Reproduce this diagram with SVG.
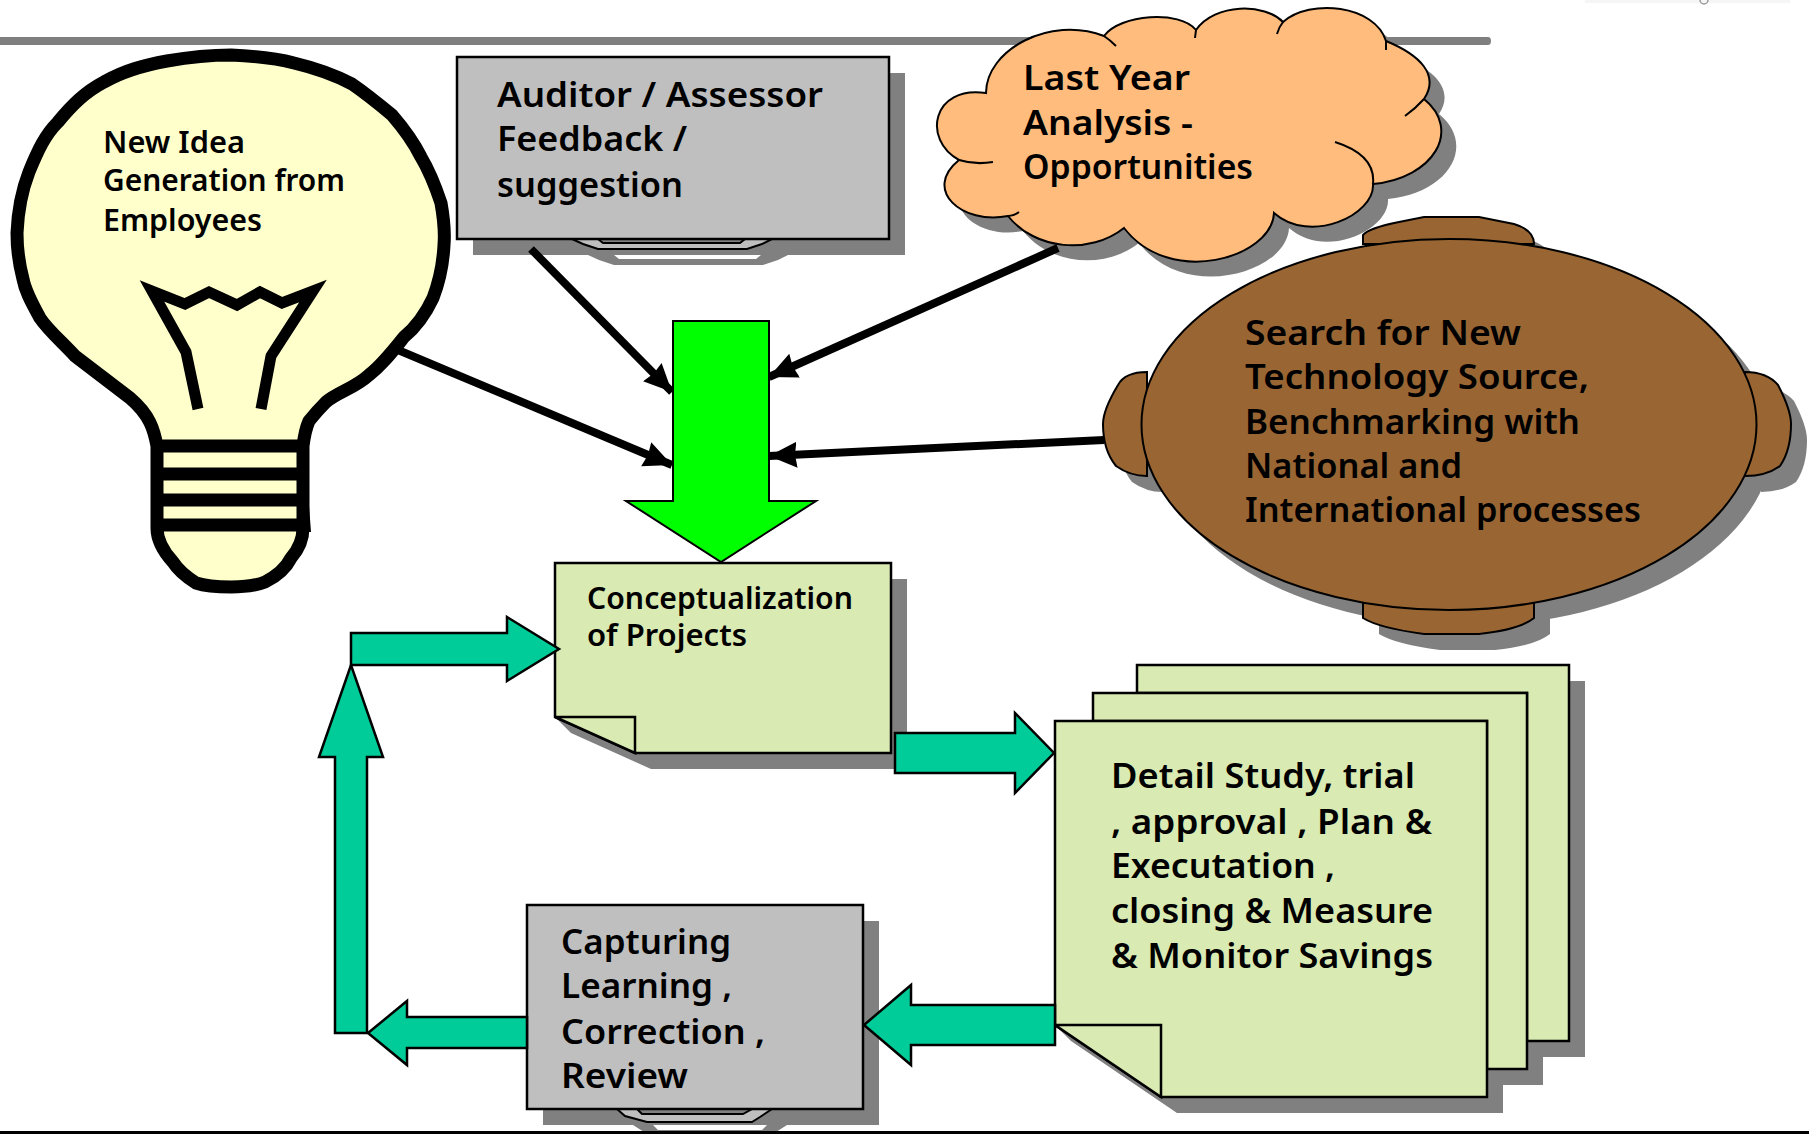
<svg xmlns="http://www.w3.org/2000/svg" width="1809" height="1134" viewBox="0 0 1809 1134">
<style>
text{font-family:"Noto Sans","Liberation Sans",sans-serif;font-weight:600;fill:#000}
.l{font-size:35px}.s{font-size:30px}
.sh{fill:#808080;stroke:none}
.o{stroke:#000;stroke-width:2.5}
.gr{fill:#BFBFBF}.nt{fill:#D9EAB2}.tl{fill:#00CC99}
.br{fill:#996633}.cl{fill:#FFBC7D}
.tail{fill:none;stroke:#000;stroke-width:2}
.bk{fill:none;stroke:#000;stroke-width:11}
.cn{fill:none;stroke:#000;stroke-width:8;marker-end:url(#ah)}
</style>
<defs>
<marker id="ah" markerUnits="userSpaceOnUse" viewBox="0 0 30 30" refX="28" refY="15" markerWidth="30" markerHeight="30" orient="auto"><path d="M0,2 L28,15 L0,28 L2,15 Z" fill="#000"/></marker>
<path id="cp" d="M986,93 C986,50 1050,15 1104,36 C1120,14 1180,10 1196,30 C1215,3 1265,3 1283,22 C1310,-2 1375,5 1386,41 C1420,55 1440,75 1424,99 C1462,130 1434,178 1373,184 C1375,215 1310,245 1274,213 C1272,258 1170,288 1124,228 C1090,255 1035,250 1008,216 C962,225 922,190 959,160 C922,140 932,85 986,93 Z"/>
</defs>
<rect width="1809" height="1134" fill="#fff"/>
<rect x="1585" y="0" width="205" height="3" fill="#F6F6F6"/>
<circle cx="1704" cy="0" r="4" fill="none" stroke="#9A9A9A" stroke-width="1.5"/>
<path d="M0,37 H1488 Q1491,37 1491,41 Q1491,45 1488,45 H0 Z" fill="#7F7F7F"/>

<g id="bulb">
<path d="M157,446 C154,430 150,415 130,398 L75,356 C60,340 48,330 40,318 C30,300 25,290 23,279 C18,260 17,245 17,233 C18,210 22,190 29,172 C38,150 45,135 58,122 C72,105 85,92 104,82 C125,70 145,65 167,61 C190,57 210,55 231,55 C255,56 275,58 294,63 C315,68 335,75 352,84 C368,95 380,105 392,115 C405,130 414,143 421,157 C430,172 436,188 441,203 C444,220 445,233 444,245 C443,265 438,285 433,298 C425,315 415,328 404,337 C392,352 382,365 369,375 C355,388 338,392 326,402 C318,410 313,416 309,421 C305,430 304,438 303,446 L303,528 C303,540 298,550 291,558 C285,570 275,577 265,582 C255,586 243,587 231,587 C218,587 205,586 196,583 C185,576 178,570 173,562 C162,550 157,540 157,528 Z" fill="#FFFFCC" stroke="#000" stroke-width="13" stroke-linejoin="round"/>
<path d="M157,446 H303 M157,474 H303 M157,500 H303 M157,525 H303" fill="none" stroke="#000" stroke-width="13"/>
<path d="M307,532 L304,440 L311,532 Z" fill="#000"/>
<path d="M198,409 L186,352 L152,291 L185,304 L209,292 L237,305 L260,292 L282,303 L313,291 L271,356 L261,409" class="bk" stroke-miterlimit="10"/>
<text class="s" x="103" y="153" textLength="142" lengthAdjust="spacingAndGlyphs">New Idea</text>
<text class="s" x="103" y="191" textLength="242" lengthAdjust="spacingAndGlyphs">Generation from</text>
<text class="s" x="103" y="231" textLength="159" lengthAdjust="spacingAndGlyphs">Employees</text>
</g>

<g id="auditor">
<path class="sh" fill-rule="evenodd" d="M588,255 L599,260 L614,265 H763 L778,260 L788,255 Z M614,255 L619,259 H756 L761,255 Z"/>
<rect class="sh" x="473" y="73" width="432" height="182"/>
<path class="gr" fill-rule="evenodd" stroke="#000" stroke-width="2" d="M572,239 L583,244 L598,249 H747 L762,244 L772,239 Z M598,239 L603,243 H740 L745,239 Z"/>
<rect class="gr o" x="457" y="57" width="432" height="182"/>
<text class="l" x="497" y="107" textLength="326" lengthAdjust="spacingAndGlyphs">Auditor / Assessor</text>
<text class="l" x="497" y="151" textLength="190" lengthAdjust="spacingAndGlyphs">Feedback /</text>
<text class="l" x="497" y="197" textLength="186" lengthAdjust="spacingAndGlyphs">suggestion</text>
</g>

<g id="cloud">
<use href="#cp" class="sh" transform="translate(15,15)"/>
<use href="#cp" class="cl" stroke="#000" stroke-width="2"/>
<path class="tail" d="M1104,36 Q1110,40 1116,46 M1196,30 L1195,38 M1283,22 Q1279,27 1277,34 M1386,41 L1386,50 M1424,99 Q1416,108 1405,116 M1373,184 Q1376,155 1335,142 M1008,216 Q1014,216 1019,212 M959,160 Q975,165 993,162"/>
<text class="l" x="1023" y="90" textLength="167" lengthAdjust="spacingAndGlyphs">Last Year</text>
<text class="l" x="1023" y="135" textLength="170" lengthAdjust="spacingAndGlyphs">Analysis -</text>
<text class="l" x="1023" y="179" textLength="230" lengthAdjust="spacingAndGlyphs">Opportunities</text>
</g>

<g id="search">
<g transform="translate(16,16)">
<ellipse class="sh" cx="1449" cy="424.5" rx="307.5" ry="185.5"/>
<path class="sh" d="M1363,244 V235 Q1369,228 1399,222 L1424,217 H1479 L1514,224 Q1534,230 1534,244 Z"/>
<path class="sh" d="M1363,602 V618 Q1379,628 1424,634 H1479 Q1519,630 1534,618 V602 Z"/>
<path class="sh" d="M1147,372 Q1125,372 1118,385 Q1103,410 1103,424 Q1103,450 1116,466 Q1130,476 1147,476 Z"/>
<path class="sh" d="M1745,372 Q1767,372 1778,385 Q1791,410 1791,424 Q1791,450 1780,466 Q1766,476 1745,476 Z"/>
</g>
<path class="br" stroke="#000" stroke-width="2" d="M1363,244 V235 Q1369,228 1399,222 L1424,217 H1479 L1514,224 Q1534,230 1534,244 Z"/>
<path class="br" stroke="#000" stroke-width="2" d="M1363,602 V618 Q1379,628 1424,634 H1479 Q1519,630 1534,618 V602 Z"/>
<path class="br" stroke="#000" stroke-width="2" d="M1147,372 Q1125,372 1118,385 Q1103,410 1103,424 Q1103,450 1116,466 Q1130,476 1147,476 Z"/>
<path class="br" stroke="#000" stroke-width="2" d="M1745,372 Q1767,372 1778,385 Q1791,410 1791,424 Q1791,450 1780,466 Q1766,476 1745,476 Z"/>
<ellipse class="br" stroke="#000" stroke-width="2" cx="1449" cy="424.5" rx="307.5" ry="185.5"/>
<text class="l" x="1245" y="345" textLength="276" lengthAdjust="spacingAndGlyphs">Search for New</text>
<text class="l" x="1245" y="389" textLength="344" lengthAdjust="spacingAndGlyphs">Technology Source,</text>
<text class="l" x="1245" y="434" textLength="335" lengthAdjust="spacingAndGlyphs">Benchmarking with</text>
<text class="l" x="1245" y="478" textLength="217" lengthAdjust="spacingAndGlyphs">National and</text>
<text class="l" x="1245" y="522" textLength="396" lengthAdjust="spacingAndGlyphs">International processes</text>
</g>

<g id="concept">
<path class="sh" d="M571,733 L651,769 H907 V579 H891 V753 H635 L555,717 Z"/>
<path class="nt o" d="M555,563 H891 V753 H635 L555,717 Z"/>
<path class="nt o" d="M555,717 H635 V753 Z"/>
<text class="s" x="587" y="609" textLength="266" lengthAdjust="spacingAndGlyphs">Conceptualization</text>
<text class="s" x="587" y="646" textLength="160" lengthAdjust="spacingAndGlyphs">of Projects</text>
</g>

<g id="detail">
<path class="sh" d="M1585,681 H1569 V1041 H1527 V1057 H1585 Z"/>
<path class="sh" d="M1543,709 H1527 V1069 H1487 V1085 H1543 Z"/>
<path class="sh" d="M1071,1041 L1177,1113 H1503 V737 H1487 V1097 H1161 L1055,1025 Z"/>
<path class="nt o" d="M1137,693 V665 H1569 V1041 H1527 V693 Z"/>
<path class="nt o" d="M1093,721 V693 H1527 V1069 H1487 V721 Z"/>
<path class="nt o" d="M1055,721 H1487 V1097 H1161 L1055,1025 Z"/>
<path class="nt o" d="M1055,1025 H1161 V1097 Z"/>
<text class="l" x="1111" y="788" textLength="304" lengthAdjust="spacingAndGlyphs">Detail Study, trial</text>
<text class="l" x="1111" y="834" textLength="321" lengthAdjust="spacingAndGlyphs">, approval , Plan &amp;</text>
<text class="l" x="1111" y="878" textLength="224" lengthAdjust="spacingAndGlyphs">Executation ,</text>
<text class="l" x="1111" y="923" textLength="322" lengthAdjust="spacingAndGlyphs">closing &amp; Measure</text>
<text class="l" x="1111" y="968" textLength="322" lengthAdjust="spacingAndGlyphs">&amp; Monitor Savings</text>
</g>

<g id="capture">
<path class="sh" fill-rule="evenodd" d="M633,1125 L644,1132 L663,1138 H768 L776,1132 L787,1125 Z M653,1125 L658,1130 H762 L767,1125 Z"/>
<rect class="sh" x="543" y="921" width="336" height="204"/>
<path class="gr" fill-rule="evenodd" stroke="#000" stroke-width="2" d="M617,1109 L625,1116 L647,1122 H752 L760,1117 L772,1109 Z M637,1109 L642,1114 H743 L752,1109 Z"/>
<rect class="gr o" x="527" y="905" width="336" height="204"/>
<text class="l" x="561" y="954" textLength="170" lengthAdjust="spacingAndGlyphs">Capturing</text>
<text class="l" x="561" y="998" textLength="171" lengthAdjust="spacingAndGlyphs">Learning ,</text>
<text class="l" x="561" y="1044" textLength="204" lengthAdjust="spacingAndGlyphs">Correction ,</text>
<text class="l" x="561" y="1088" textLength="127" lengthAdjust="spacingAndGlyphs">Review</text>
</g>

<g id="connectors">
<line class="cn" x1="531" y1="249" x2="672" y2="392"/>
<line class="cn" x1="398" y1="350" x2="672" y2="465"/>
<line class="cn" x1="1058" y1="248" x2="769" y2="377"/>
<line class="cn" x1="1104" y1="440" x2="769" y2="456"/>
<path d="M673,321 H769 V501 H816 L721,562 L626,501 H673 Z" fill="#00FF00" stroke="#000" stroke-width="2"/>
<path class="tl o" d="M351,633 H507 V617 L559,649 L507,681 V665 H351 Z"/>
<path class="tl o" d="M895,733 H1015 V713 L1054,753 L1015,793 V773 H895 Z"/>
<path class="tl o" d="M335,1033 V757 H319 L351,665 L383,757 H367 V1033 Z"/>
<path class="tl o" d="M527,1017 H407 V1001 L368,1033 L407,1065 V1048 H527 Z"/>
<path class="tl o" d="M1055,1005 H911 V985 L864,1025 L911,1065 V1045 H1055 Z"/>
</g>
<rect x="0" y="1131" width="1809" height="3" fill="#000"/>
</svg>
